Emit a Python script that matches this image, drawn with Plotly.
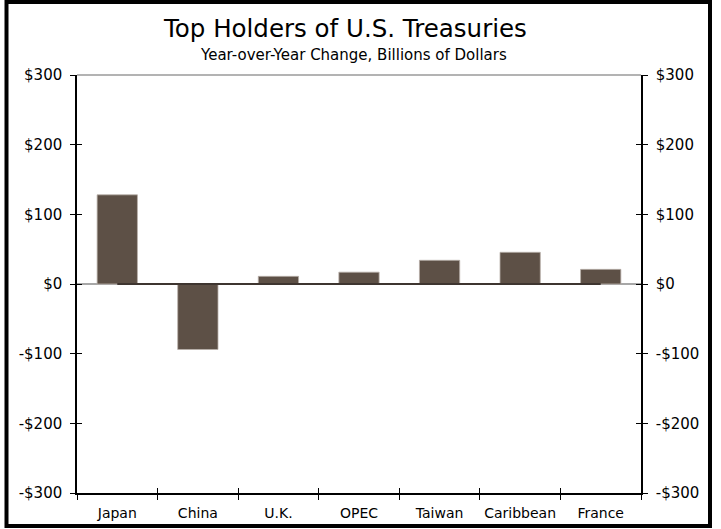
import plotly.graph_objects as go

categories = ["Japan", "China", "U.K.", "OPEC", "Taiwan", "Caribbean", "France"]
yoy_change = [128, -94, 11, 17, 34, 45.5, 21]
baseline = [0, 0, 0, 0, 0, 0, 0]
y_tick_vals = [-300, -200, -100, 0, 100, 200, 300]
y_tick_text = ["-$300", "-$200", "-$100", "$0", "$100", "$200", "$300"]

FONT = "DejaVu Sans"
L, R, T, B = 77, 80, 75, 36
W, H = 721, 529
PW, PH = W - L - R, H - T - B


def px_x(p):
    return (p - L) / PW


def px_y(p):
    return (H - B - p) / PH


fig = go.Figure()
fig.add_trace(go.Bar(
    x=categories, y=yoy_change, width=0.5,
    marker=dict(color="#5d5046", line=dict(color="#b9b0aa", width=0.8)),
    xaxis="x", yaxis="y", showlegend=False, hoverinfo="skip"))
fig.add_trace(go.Scatter(
    x=categories, y=baseline, mode="lines",
    line=dict(color="#3e3530", width=2),
    xaxis="x2", yaxis="y", showlegend=False, hoverinfo="skip"))
# invisible carriers so the overlaid tick axes are drawn
for ya in ["y2", "y3", "y4"]:
    fig.add_trace(go.Scatter(
        x=categories, y=baseline, mode="markers", marker=dict(opacity=0),
        xaxis="x", yaxis=ya, showlegend=False, hoverinfo="skip"))

common_x = dict(type="category", categoryorder="array", categoryarray=categories,
                range=[-0.5, 6.5], tickson="boundaries", showgrid=False,
                zeroline=False, tickcolor="#000", ticklen=5, tickwidth=1,
                tickangle=0, automargin=False)
common_y = dict(range=[-300, 300], tickvals=y_tick_vals, ticktext=y_tick_text,
                showgrid=False, zeroline=False, tickcolor="#000", ticklen=5,
                tickwidth=1, automargin=False,
                tickfont=dict(family=FONT, size=15, color="#000"))

fig.update_layout(
    width=W, height=H,
    margin=dict(l=L, r=R, t=T, b=B, pad=0),
    paper_bgcolor="white", plot_bgcolor="white",
    font=dict(family=FONT, color="#000"),
    xaxis=dict(**common_x, ticks="outside", showline=True, linecolor="#000",
               linewidth=1.5, ticklabelstandoff=6,
               tickfont=dict(family=FONT, size=14, color="#000")),
    xaxis2=dict(**common_x, overlaying="x", ticks="inside", showline=False,
                showticklabels=False),
    yaxis=dict(**common_y, ticks="outside", showline=True, linecolor="#000",
               linewidth=1.5, side="left", ticklabelstandoff=5),
    yaxis2=dict(**common_y, overlaying="y", side="right", ticks="outside",
                showline=True, linecolor="#000", linewidth=1.5,
                ticklabelstandoff=5),
    yaxis3=dict(**common_y, overlaying="y", side="left", ticks="inside",
                showticklabels=False),
    yaxis4=dict(**common_y, overlaying="y", side="right", ticks="inside",
                showticklabels=False),
    bargap=0.5,
)

# zero line (gray) and top border
fig.add_shape(type="line", xref="paper", yref="y", x0=0, x1=1, y0=0, y1=0,
              line=dict(color="#8a8a8a", width=1.5), layer="below")
fig.add_shape(type="line", xref="paper", yref="paper", x0=0, x1=1, y0=1, y1=1,
              line=dict(color="#9a9a9a", width=1.5))
# outer frame
fig.add_shape(type="rect", xref="paper", yref="paper",
              x0=px_x(6.5), x1=px_x(710), y0=px_y(526), y1=px_y(2),
              line=dict(color="#000", width=4))

fig.add_annotation(text="Top Holders of U.S. Treasuries", xref="paper", yref="paper",
                   x=px_x(345), y=px_y(29), xanchor="center", yanchor="middle",
                   showarrow=False, font=dict(family=FONT, size=24.5, color="#000"))
fig.add_annotation(text="Year-over-Year Change, Billions of Dollars", xref="paper",
                   yref="paper", x=px_x(353), y=px_y(55), xanchor="center",
                   yanchor="middle", showarrow=False,
                   font=dict(family=FONT, size=15, color="#000"))

fig.write_html("out.html")
